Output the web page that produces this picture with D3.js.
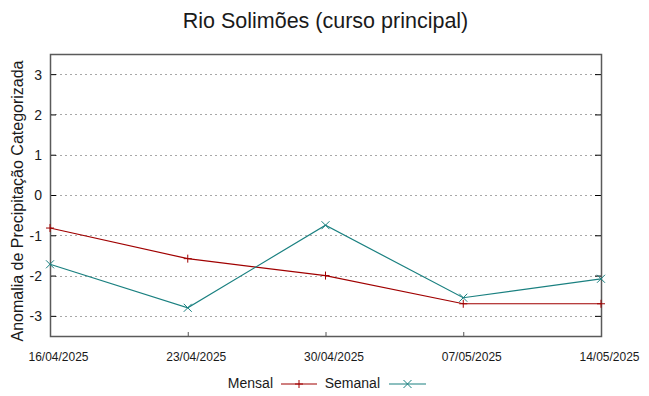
<!DOCTYPE html>
<html>
<head>
<meta charset="utf-8">
<script src="https://cdn.jsdelivr.net/npm/d3@7"></script>
<style>
  body { margin: 0; background: #fff; }
  text { font-family: "Liberation Sans", Arial, sans-serif; fill: #1a1a1a; }
</style>
</head>
<body>
<svg id="chart" width="649" height="396"></svg>
<script>
let svg = d3.select("#chart")
let width = 649, height = 396

// data
let dates = ["16/04/2025", "23/04/2025", "30/04/2025", "07/05/2025", "14/05/2025"]
let mensal = [-0.82, -1.58, -2.0, -2.7, -2.7]
let semanal = [-1.72, -2.8, -0.75, -2.55, -2.08]
let yTicks = [-3, -2, -1, 0, 1, 2, 3]

let margin = { top: 54, right: 48, bottom: 60, left: 50 }

let parse = d3.timeParse("%d/%m/%Y")

let x = d3.scaleTime()
    .domain(d3.extent(dates, d => parse(d)))
    .range([margin.left, width - margin.right])

let y = d3.scaleLinear()
    .domain([-3.5, 3.5])
    .range([height - margin.bottom, margin.top])

// grid
svg.append("g")
  .selectAll("line")
  .data(yTicks)
  .join("line")
  .attr("x1", margin.left)
  .attr("x2", width - margin.right)
  .attr("y1", d => Math.round(y(d)) + 0.5)
  .attr("y2", d => Math.round(y(d)) + 0.5)
  .style("stroke", "#a8a8a8")
  .style("stroke-width", "1px")
  .style("stroke-dasharray", "2,3")

// y axis ticks (left, inward) and labels
let yAxisLeft = d3.axisLeft(y)
    .tickValues(yTicks)
    .tickSize(-6)
    .tickPadding(8)
    .tickFormat(d3.format("d"))

let yAx = svg.append("g")
  .attr("transform", `translate(${margin.left},0)`)
  .call(yAxisLeft)
yAx.select(".domain").remove()
yAx.selectAll("line").style("stroke", "#000")
yAx.selectAll("text")
  .style("font-size", "14px")
  .attr("dy", "0.35em")
  .text(d => d < 0 ? "-" + Math.abs(d) : d)

// mirrored ticks on the right
let yAxisRight = d3.axisRight(y)
    .tickValues(yTicks)
    .tickSize(-6)
    .tickFormat("")
let yAxR = svg.append("g")
  .attr("transform", `translate(${width - margin.right},0)`)
  .call(yAxisRight)
yAxR.select(".domain").remove()
yAxR.selectAll("line").style("stroke", "#000")

// x axis
let xAxisSettings = d3.axisBottom(x)
    .tickValues(dates.map(d => parse(d)))
    .tickSize(-4)
    .tickPadding(16)
    .tickFormat(d3.timeFormat("%d/%m/%Y"))

let xAx = svg.append("g")
  .attr("transform", `translate(0,${height - margin.bottom})`)
  .call(xAxisSettings)
xAx.select(".domain").remove()
xAx.selectAll("line").style("stroke", "#555")
xAx.selectAll("text")
  .style("font-size", "12px")
  .attr("x", 8)

// border
svg.append("rect")
  .attr("x", margin.left + 0.5)
  .attr("y", margin.top + 0.5)
  .attr("width", width - margin.left - margin.right)
  .attr("height", height - margin.top - margin.bottom)
  .style("fill", "none")
  .style("stroke", "#5a5a5a")
  .style("stroke-width", "1.5px")

let series = [
  { name: "Mensal", values: mensal, color: "#a00000", marker: "plus" },
  { name: "Semanal", values: semanal, color: "#1a8080", marker: "cross" }
]

let line = d3.line()
    .x((d, i) => x(parse(dates[i])))
    .y(d => y(d))

let s = 4
function markerPath(kind) {
  if (kind == "plus") return `M${-s},0H${s}M0,${-s}V${s}`
  return `M${-s},${-s}L${s},${s}M${-s},${s}L${s},${-s}`
}

series.forEach(function (ser) {
  svg.append("path")
    .attr("d", line(ser.values))
    .style("fill", "none")
    .style("stroke", ser.color)
    .style("stroke-width", "1.2px")

  svg.append("g")
    .selectAll("path")
    .data(ser.values)
    .join("path")
    .attr("transform", (d, i) => `translate(${x(parse(dates[i]))},${y(d)})`)
    .attr("d", markerPath(ser.marker))
    .style("stroke", ser.color)
    .style("stroke-width", "1px")
})

// title
svg.append("text")
  .attr("text-anchor", "middle")
  .attr("x", (margin.left + width - margin.right) / 2)
  .attr("y", 28)
  .style("font-size", "21.5px")
  .text("Rio Solimões (curso principal)")

// y axis label
svg.append("text")
  .attr("text-anchor", "middle")
  .attr("transform", `translate(23,201) rotate(-90)`)
  .style("font-size", "16px")
  .text("Anomalia de Precipitação Categorizada")

// legend
let legend = [
  { name: "Mensal", tx: 273, lx1: 281, lx2: 317 },
  { name: "Semanal", tx: 380, lx1: 389, lx2: 426 }
]
legend.forEach(function (l, i) {
  let ser = series[i]
  svg.append("text")
    .attr("text-anchor", "end")
    .attr("x", l.tx)
    .attr("y", 388)
    .style("font-size", "14px")
    .text(l.name)
  svg.append("line")
    .attr("x1", l.lx1).attr("x2", l.lx2)
    .attr("y1", 384).attr("y2", 384)
    .style("stroke", ser.color)
    .style("stroke-width", "1.2px")
  svg.append("path")
    .attr("transform", `translate(${(l.lx1 + l.lx2) / 2},384)`)
    .attr("d", markerPath(ser.marker))
    .style("stroke", ser.color)
    .style("stroke-width", "1px")
})
</script>
</body>
</html>
